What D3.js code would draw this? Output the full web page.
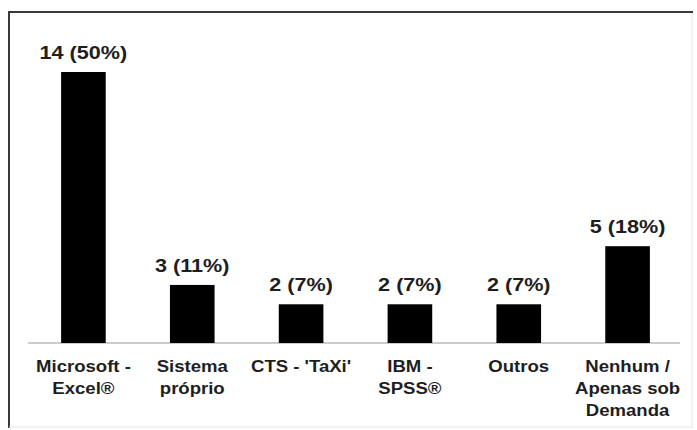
<!DOCTYPE html>
<html>
<head>
<meta charset="utf-8">
<script src="https://cdn.jsdelivr.net/npm/d3@7"></script>
<style>
  body { margin: 0; background: #fff; }
  svg { display: block; font-family: "Liberation Sans", Arial, sans-serif; }
</style>
</head>
<body>
<div id="chart"></div>
<script>
// data
var categories = ["Microsoft - Excel\u00AE", "Sistema pr\u00F3prio", "CTS - 'TaXi'", "IBM - SPSS\u00AE", "Outros", "Nenhum / Apenas sob Demanda"]
var catLines = [["Microsoft -", "Excel\u00AE"], ["Sistema", "pr\u00F3prio"], ["CTS - 'TaXi'"], ["IBM -", "SPSS\u00AE"], ["Outros"], ["Nenhum /", "Apenas sob", "Demanda"]]
var counts = [14, 3, 2, 2, 2, 5]
var percents = [50, 11, 7, 7, 7, 18]

const width = 697
const height = 430

const svg = d3.select('#chart')
  .append("svg")
  .attr("width", width)
  .attr("height", height)

// frame (dark top/left, light right/bottom)
svg.append("line").attr("x1", 8).attr("x2", 693).attr("y1", 12).attr("y2", 12)
  .attr("stroke", "#3a3a3a").attr("stroke-width", 2)
svg.append("line").attr("x1", 9).attr("x2", 9).attr("y1", 12).attr("y2", 428)
  .attr("stroke", "#3a3a3a").attr("stroke-width", 2)
svg.append("line").attr("x1", 692).attr("x2", 692).attr("y1", 13).attr("y2", 428)
  .attr("stroke", "#e4e4e4").attr("stroke-width", 1)
svg.append("line").attr("x1", 9).attr("x2", 692).attr("y1", 427).attr("y2", 427)
  .attr("stroke", "#e8e8e8").attr("stroke-width", 1)

var x = d3.scaleBand()
  .domain(categories)
  .range([29, 682])
  .padding(0.59)
  .paddingOuter(0.295)

var y = d3.scaleLinear()
  .domain([0, 14])
  .range([343, 72])

// baseline
svg.append("line")
  .attr("x1", 28).attr("x2", 680)
  .attr("y1", y(0)).attr("y2", y(0))
  .attr("stroke", "#9a9a9a").attr("stroke-width", 1)

svg.append("g")
  .selectAll("rect")
  .data(d3.zip(categories, counts))
  .enter()
  .append("rect")
  .attr("x", function (d) { return x(d[0]) })
  .attr("y", function (d) { return y(d[1]) })
  .attr("width", x.bandwidth())
  .attr("height", function (d) { return y(0) - y(d[1]) })
  .attr("fill", "#000")

// value labels (the source font is drawn a bit wide, so stretch it)
svg.append("g")
  .selectAll("text")
  .data(d3.zip(categories, counts, percents))
  .enter()
  .append("text")
  .attr("transform", function (d) {
    return "translate(" + (x(d[0]) + x.bandwidth() / 2) + "," + (y(d[1]) - 13) + ") scale(1.2,1)"
  })
  .attr("text-anchor", "middle")
  .attr("font-size", "18px")
  .attr("font-weight", "bold")
  .attr("fill", "#1e1e1e")
  .text(function (d) { return d[1] + " (" + d[2] + "%)" })

// category labels
var cat = svg.append("g")
  .selectAll("text")
  .data(d3.zip(categories, catLines))
  .enter()
  .append("text")
  .attr("transform", function (d) {
    return "translate(" + (x(d[0]) + x.bandwidth() / 2) + ",372) scale(1.16,1)"
  })
  .attr("text-anchor", "middle")
  .attr("font-size", "16px")
  .attr("font-weight", "bold")
  .attr("fill", "#1e1e1e")

cat.selectAll("tspan")
  .data(function (d) { return d[1] })
  .enter()
  .append("tspan")
  .attr("x", 0)
  .attr("dy", function (d, i) { return i == 0 ? 0 : 22 })
  .text(function (d) { return d })
</script>
</body>
</html>
